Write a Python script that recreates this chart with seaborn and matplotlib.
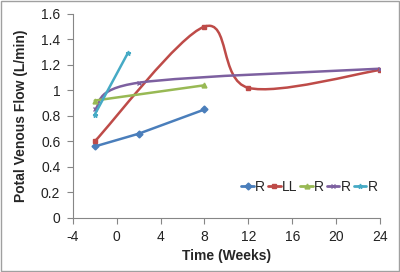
import matplotlib
matplotlib.use('Agg')
import matplotlib.pyplot as plt
import seaborn as sns
import pandas as pd
from matplotlib.path import Path
from matplotlib.patches import PathPatch, Rectangle
from matplotlib.lines import Line2D

# data (weeks, L/min)
weeks_r1 = [-2, 2, 8]
flow_r1 = [0.56, 0.66, 0.85]
weeks_ll = [-2, 8, 12, 24]
flow_ll = [0.60, 1.50, 1.02, 1.16]
weeks_r2 = [-2, 8]
flow_r2 = [0.92, 1.04]
weeks_r3 = [-2, 2, 24]
flow_r3 = [0.85, 1.06, 1.17]
weeks_r4 = [-2, 1]
flow_r4 = [0.81, 1.29]

labels = ['R', 'LL', 'R', 'R', 'R']
x_ticks = [-4, 0, 4, 8, 12, 16, 20, 24]
y_ticks = [0, 0.2, 0.4, 0.6, 0.8, 1, 1.2, 1.4, 1.6]

series = [
    (weeks_r1, flow_r1, '#4A7EBB', 'D', False),
    (weeks_ll, flow_ll, '#BE4B48', 's', True),
    (weeks_r2, flow_r2, '#98B954', '^', False),
    (weeks_r3, flow_r3, '#7D60A0', 'x', True),
    (weeks_r4, flow_r4, '#46AAC5', '*', False),
]

sns.set_style('white')
plt.rcParams['font.family'] = ['Liberation Sans', 'DejaVu Sans']
plt.rcParams['axes.unicode_minus'] = False


def smooth_path(xs, ys):
    # excel-like smoothed line: cubic bezier through the points
    pts = list(zip(xs, ys))
    verts = [pts[0]]
    codes = [Path.MOVETO]
    n = len(pts)
    for i in range(n - 1):
        p0 = pts[i - 1] if i > 0 else pts[i]
        p1 = pts[i]
        p2 = pts[i + 1]
        p3 = pts[i + 2] if i + 2 < n else pts[i + 1]
        c1 = (p1[0] + (p2[0] - p0[0]) / 6, p1[1] + (p2[1] - p0[1]) / 6)
        c2 = (p2[0] - (p3[0] - p1[0]) / 6, p2[1] - (p3[1] - p1[1]) / 6)
        verts += [c1, c2, p2]
        codes += [Path.CURVE4] * 3
    return Path(verts, codes)


fig, ax = plt.subplots(figsize=(4, 2.72), dpi=100)
fig.subplots_adjust(left=0.182, right=0.95, top=0.949, bottom=0.199)

handles = []
for (xs, ys, color, marker, smooth), lab in zip(series, labels):
    df = pd.DataFrame({'week': xs, 'flow': ys})
    if smooth:
        ax.add_patch(PathPatch(smooth_path(xs, ys), facecolor='none',
                               edgecolor=color, lw=1.8, transform=ax.transData))
    else:
        sns.lineplot(data=df, x='week', y='flow', color=color, lw=1.8, ax=ax)
    ax.plot(xs, ys, linestyle='none', marker=marker, color=color,
            markersize=3.5, markeredgewidth=1.0)
    handles.append(Line2D([], [], color=color, lw=2, marker=marker,
                          markersize=3.5, label=lab))

ax.set_xlim(-4, 24)
ax.set_ylim(0, 1.6)
ax.set_xticks(x_ticks)
ax.set_yticks(y_ticks)
ax.set_yticklabels([f'{t:g}' for t in y_ticks])
ax.set_xlabel('Time (Weeks)', fontsize=10, fontweight='bold', labelpad=3)
ax.set_ylabel('Potal Venous Flow (L/min)', fontsize=10, fontweight='bold', labelpad=9)
ax.tick_params(axis='both', direction='out', length=4, width=0.8, color='#868686',
               labelsize=10, left=True, bottom=True, pad=5, labelcolor='#222222')

for side in ['top', 'right']:
    ax.spines[side].set_visible(False)
for side in ['left', 'bottom']:
    ax.spines[side].set_color('#868686')
    ax.spines[side].set_linewidth(0.8)

ax.legend(handles=handles, loc='center right', bbox_to_anchor=(1.01, 0.15),
          ncol=5, frameon=False, fontsize=10, handlelength=0.9,
          handletextpad=0.1, columnspacing=0.2, borderaxespad=0)

fig.patches.append(Rectangle((0.002, 0.003), 0.996, 0.994, transform=fig.transFigure,
                             fill=False, edgecolor='#A0A0A0', lw=1))

fig.savefig('out.png', dpi=100)
